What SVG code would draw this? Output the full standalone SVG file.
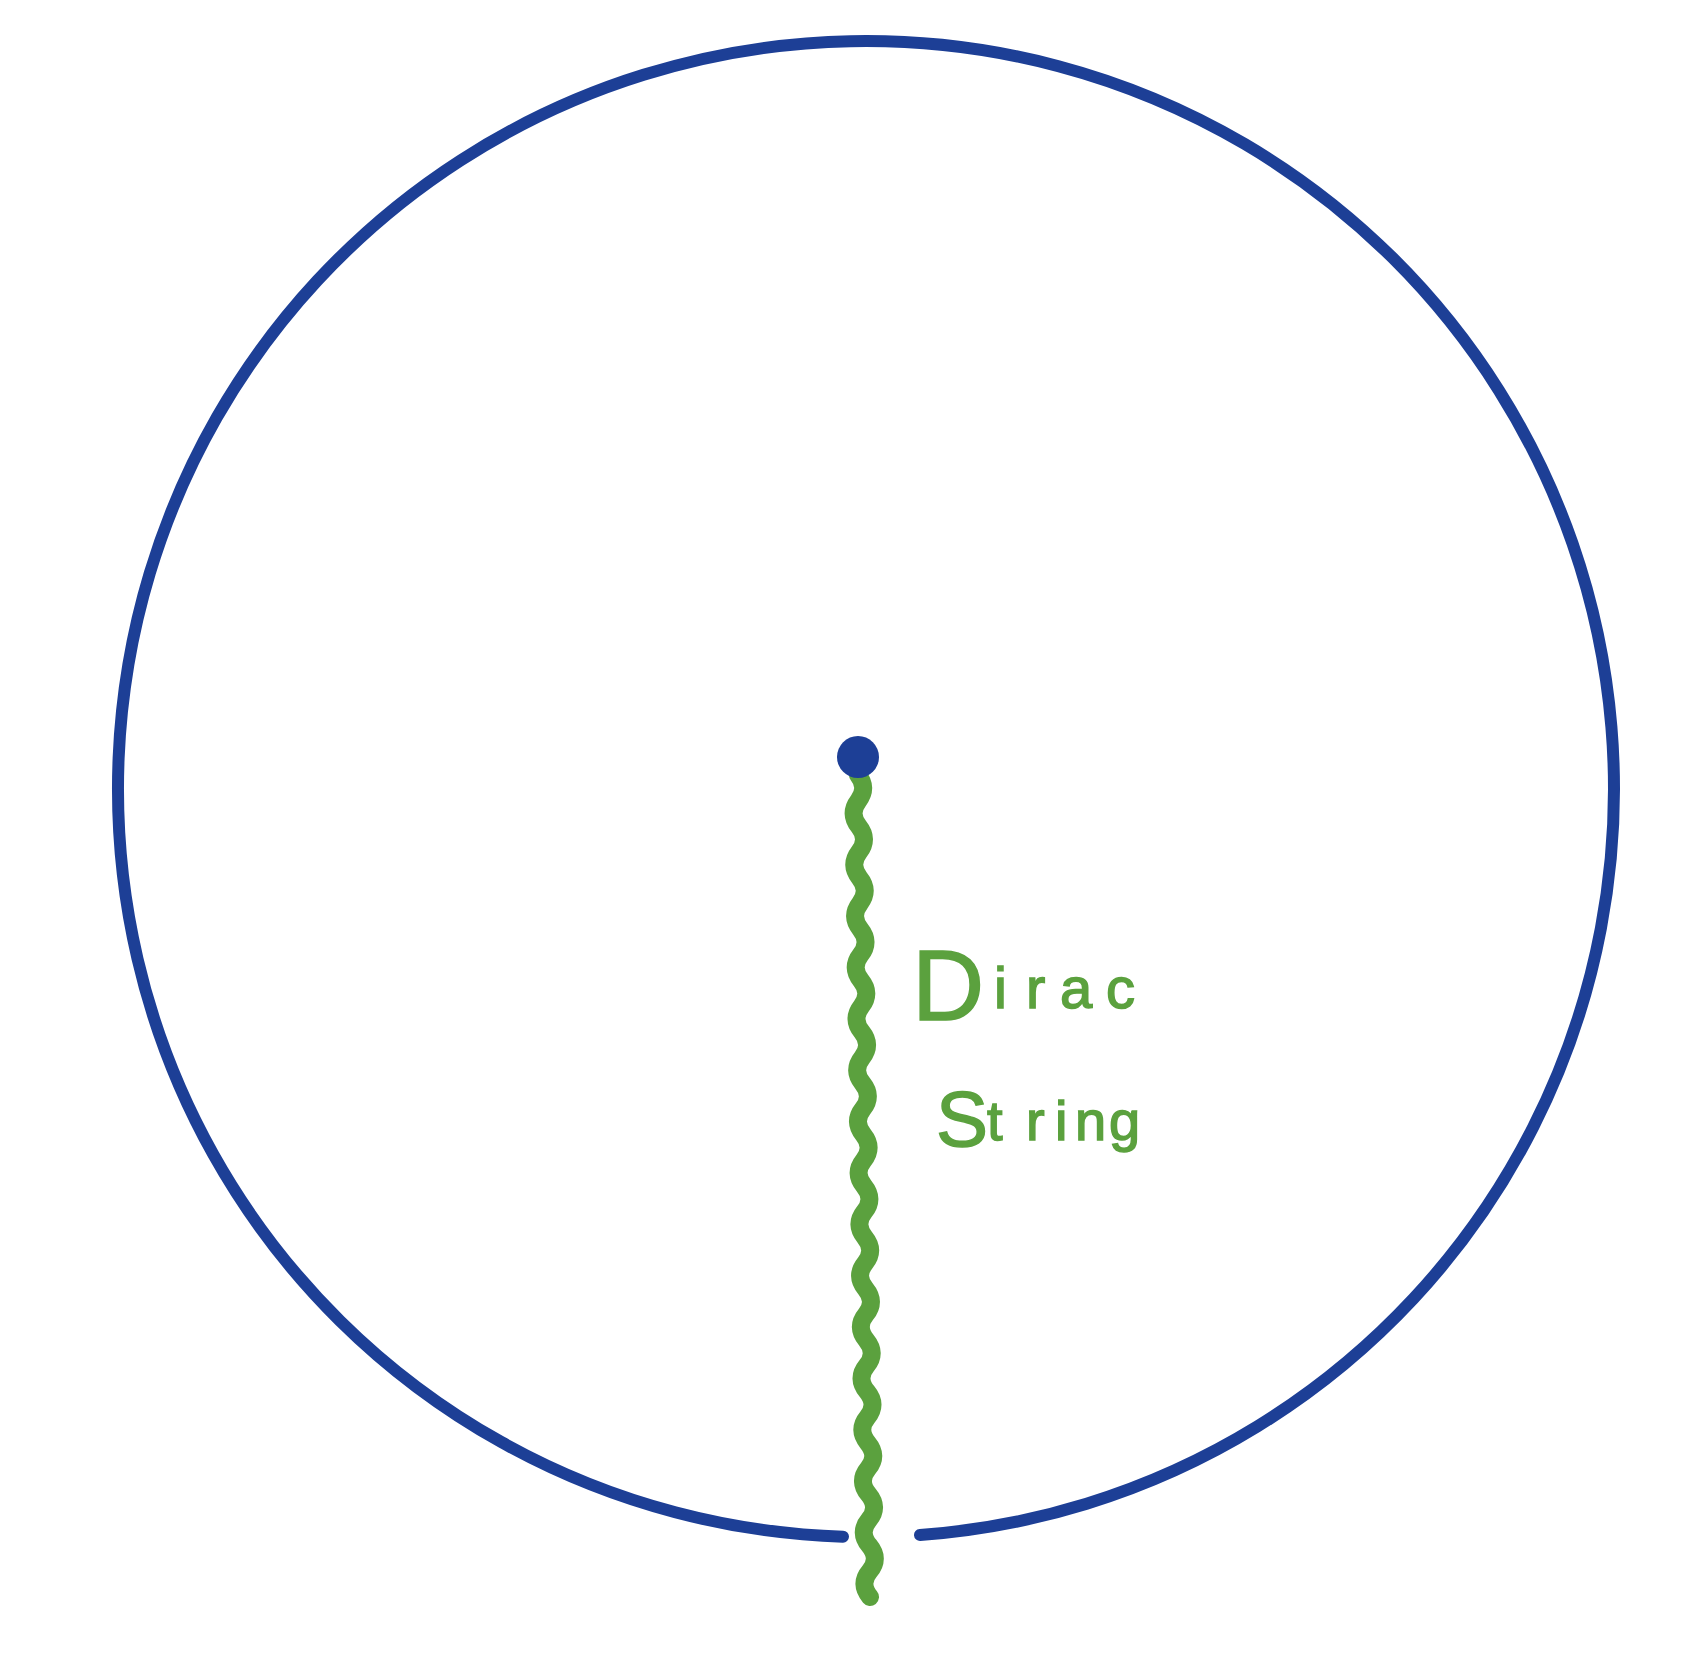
<svg xmlns="http://www.w3.org/2000/svg" width="1694" height="1658" viewBox="0 0 1694 1658">
  <style>
    .blue { fill: none; stroke: #1d3f96; stroke-width: 12; stroke-linecap: round; }
    .wave { fill: none; stroke: #5ba13e; stroke-width: 18; stroke-linecap: round; stroke-linejoin: round; }
    .label { fill: #5ba13e; stroke: #5ba13e; stroke-width: 1.5; font-family: "Liberation Sans", Arial, sans-serif; }
  </style>
  <rect width="1694" height="1658" fill="#ffffff"/>
  <g id="sphere">
    <path class="blue" d="M 843 1536.65 A 748 748 0 1 1 920 1535.05"/>
  </g>
  <g id="connectors">
    <path id="dirac-string" class="wave" d="M 858 775 Q 868.2 787.8 858.4 800.7 T 858.8 826.4 T 859.1 852.1 T 859.5 877.8 T 859.9 903.4 T 860.3 929.1 T 860.6 954.8 T 861 980.5 T 861.4 1006.2 T 861.8 1031.9 T 862.1 1057.6 T 862.5 1083.3 T 862.9 1108.9 T 863.3 1134.6 T 863.6 1160.3 T 864 1186 T 864.4 1211.7 T 864.8 1237.4 T 865.1 1263.1 T 865.5 1288.8 T 865.9 1314.4 T 866.3 1340.1 T 866.6 1365.8 T 867 1391.5 T 867.4 1417.2 T 867.8 1442.9 T 868.1 1468.6 T 868.5 1494.3 T 868.9 1519.9 T 869.3 1545.6 T 869.6 1571.3 T 870 1597"/>
  </g>
  <g id="monopole">
    <circle cx="858" cy="757" r="21" fill="#1d3f96"/>
  </g>
  <g id="label">
    <text class="label"><tspan x="912" y="1020" font-size="100">D</tspan><tspan x="994 1026 1060 1106" y="1008" font-size="58">irac</tspan></text>
    <text class="label"><tspan x="936" y="1146" font-size="78">S</tspan><tspan x="987 1026 1055 1075 1109" y="1140" font-size="56">tring</tspan></text>
  </g>
</svg>
